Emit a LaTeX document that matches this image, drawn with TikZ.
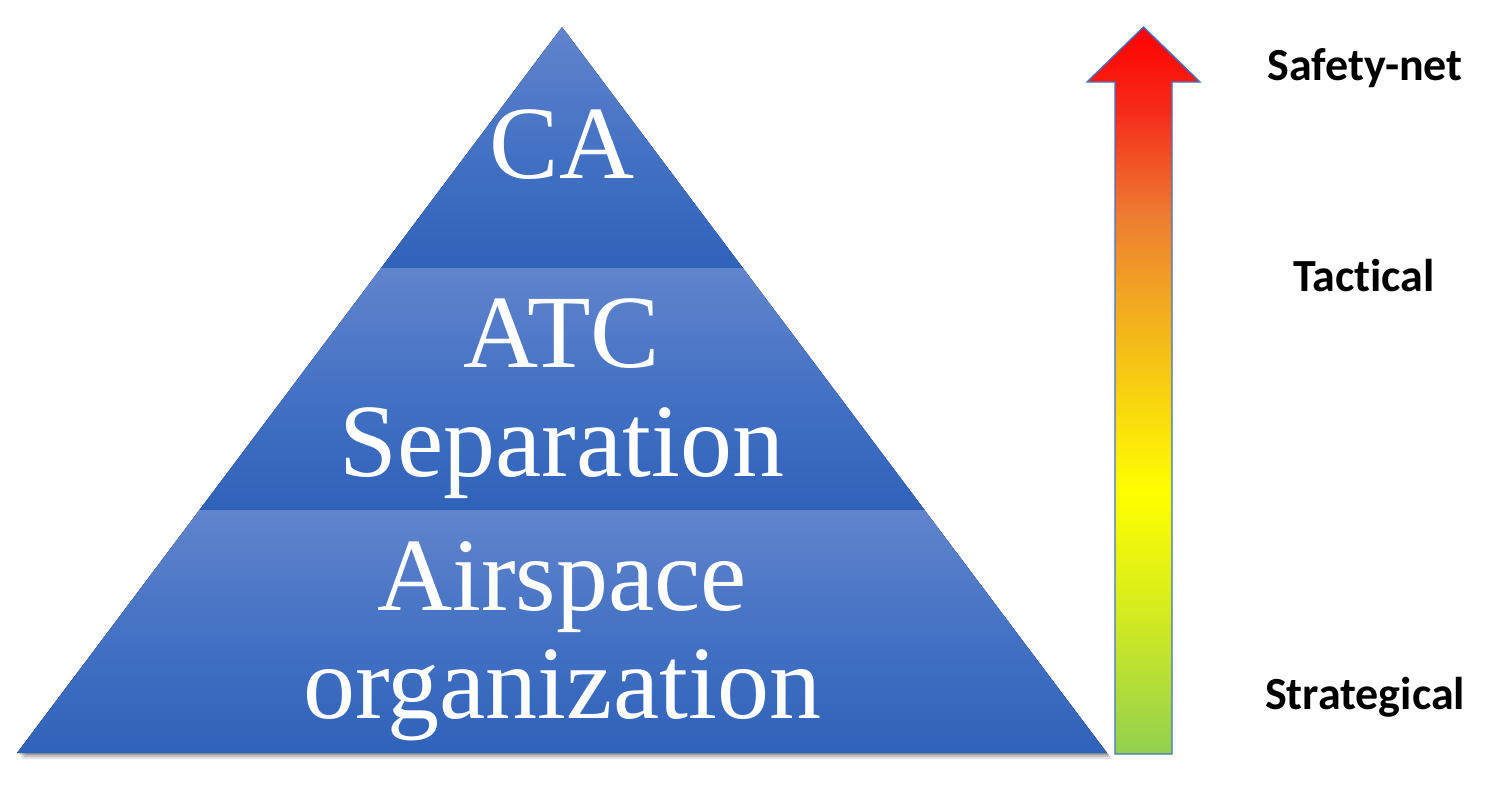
\documentclass[tikz,border=0pt]{standalone}
\usepackage{fontspec}
\setmainfont{Liberation Serif}
\newfontfamily\labelfont[Ligatures=NoCommon]{Carlito}
\definecolor{lgreen}{RGB}{146,208,80}
\definecolor{lime}{RGB}{214,236,30}
\definecolor{ayellow}{RGB}{255,255,0}
\definecolor{aamber}{RGB}{243,176,30}
\definecolor{aorange}{RGB}{237,125,49}
\definecolor{ared2}{RGB}{246,45,27}
\definecolor{ared}{RGB}{255,0,0}
\definecolor{arrowline}{RGB}{68,114,196}
\definecolor{bandtop}{RGB}{97,132,204}
\definecolor{bandmid}{RGB}{68,114,196}
\definecolor{bandbot}{RGB}{47,98,185}
\pgfdeclareverticalshading{heat}{100bp}{color(0bp)=(lgreen); color(25bp)=(lgreen); color(35bp)=(lime); color(43bp)=(ayellow); color(55bp)=(aamber); color(62bp)=(aorange); color(69bp)=(ared2); color(75bp)=(ared); color(100bp)=(ared)}
\tikzset{
  band/.style={top color=bandtop, bottom color=bandbot, middle color=bandmid},
  pyrtext/.style={text=white, inner sep=0pt, anchor=base, font=\fontsize{52}{56}\selectfont},
  lab/.style={text=black, inner sep=0pt, anchor=base, font=\labelfont\bfseries\fontsize{23}{28}\selectfont},
}
\begin{document}
\begin{tikzpicture}[x=0.5pt,y=-0.5pt]
\useasboundingbox (0,0) rectangle (1489,784);
% pyramid
\coordinate (apex) at (562,27);
\coordinate (bl) at (17,753);
\coordinate (br) at (1107,753);
\coordinate (l1) at (381.1,268);
\coordinate (r1) at (742.9,268);
\coordinate (l2) at (199.4,510);
\coordinate (r2) at (924.6,510);
% soft shadow under the base
\fill[black, opacity=0.10] (562,44) -- (1112,759) -- (22,759) -- cycle;
\fill[black, opacity=0.15] (562,40) -- (1110,757) -- (21,757) -- cycle;
\fill[black, opacity=0.18] (562,36) -- (1109,755) -- (20,755) -- cycle;
\fill[band] (apex) -- (r1) -- (l1) -- cycle;
\fill[band] (l1) -- (r1) -- (r2) -- (l2) -- cycle;
\fill[band] (l2) -- (r2) -- (br) -- (bl) -- cycle;
\node[pyrtext] (ca) at (562,178) {CA};
\node[pyrtext] (atc) at (562,367) {ATC};
\node[pyrtext] (sep) at (562,476) {Separation};
\node[pyrtext] (air) at (562,610) {Airspace};
\node[pyrtext] (org) at (562,718) {organization};
% arrow
\path[draw=arrowline, line width=0.7pt, shading=heat]
  (1115,754) -- (1115,82) -- (1087,82) -- (1143.5,27) -- (1200,82) -- (1172,82) -- (1172,754) -- cycle;
% labels
\node[lab] (safety) at (1365,80) {Safety-net};
\node[lab] (tactical) at (1364,291) {Tactical};
\node[lab] (strategical) at (1365,709) {Strategical};
\end{tikzpicture}
\end{document}
